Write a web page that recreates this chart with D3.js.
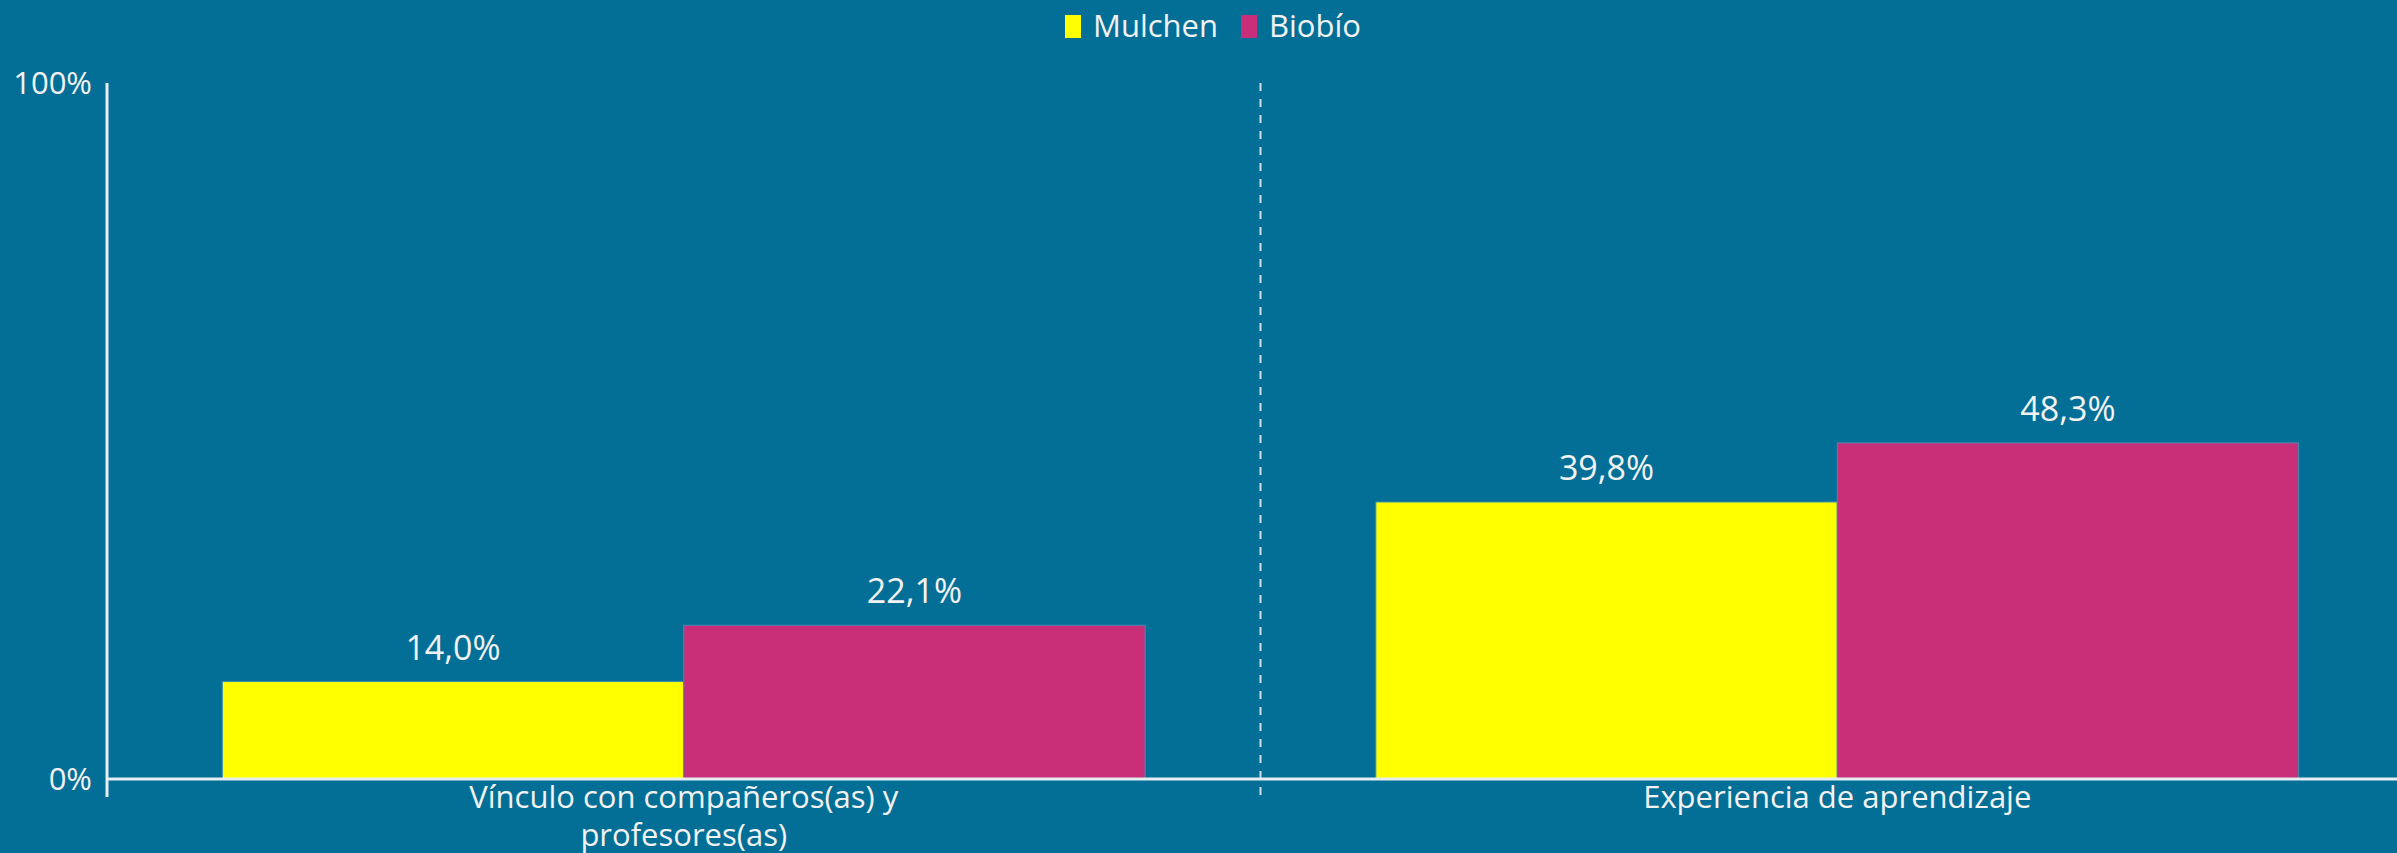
<!DOCTYPE html>
<html>
<head>
<meta charset="utf-8">
<script src="https://cdn.jsdelivr.net/npm/d3@7"></script>
<style>
  html, body { margin: 0; padding: 0; background: #036f96; overflow: hidden; }
  svg { display: block; }
  text { font-family: "Open Sans", sans-serif; fill: #f2f2f2; }
</style>
</head>
<body>
<svg id="chart"></svg>
<script>
// Categories (label lines) and series values, as shares of 1
const categories = ["Vínculo con compañeros(as) y profesores(as)", "Experiencia de aprendizaje"];
const categoryLines = [["Vínculo con compañeros(as) y", "profesores(as)"], ["Experiencia de aprendizaje"]];
const seriesNames = ["Mulchen", "Biobío"];
const mulchen = [0.140, 0.398];
const biobio = [0.221, 0.483];
const yTicks = [0, 1];
const yTickLabels = ["0%", "100%"];

const W = 2397, H = 853;
const colors = { "Mulchen": "#ffff00", "Biobío": "#c92e78" };
const series = [
  { name: seriesNames[0], values: mulchen },
  { name: seriesNames[1], values: biobio }
];

const svg = d3.select("#chart").attr("width", W).attr("height", H);
svg.append("rect").attr("width", W).attr("height", H).attr("fill", "#036f96");

const left = 107, baseY = 779, topY = 83;

const x0 = d3.scaleBand().domain(categories).range([left, 2414]).paddingInner(0.2).paddingOuter(0.1);
const x1 = d3.scaleBand().domain(seriesNames).range([0, x0.bandwidth()]);
const y = d3.scaleLinear().domain([0, 1]).range([baseY, topY]);

const fmt = v => (v * 100).toFixed(1).replace(".", ",") + "%";

// Bars
const groups = svg.append("g").selectAll("g")
  .data(categories)
  .join("g")
  .attr("transform", d => `translate(${x0(d)},0)`);

groups.selectAll("rect")
  .data((d, i) => series.map(s => ({ name: s.name, v: s.values[i] })))
  .join("rect")
  .attr("x", d => x1(d.name))
  .attr("y", d => y(d.v))
  .attr("width", x1.bandwidth())
  .attr("height", d => baseY - y(d.v))
  .attr("fill", d => colors[d.name])
  .attr("stroke", "#3d8fb3")
  .attr("stroke-width", 1);

// Value labels
groups.selectAll("text.val")
  .data((d, i) => series.map(s => ({ name: s.name, v: s.values[i] })))
  .join("text")
  .attr("class", "val")
  .attr("x", d => x1(d.name) + x1.bandwidth() / 2)
  .attr("y", d => y(d.v) - 22)
  .attr("text-anchor", "middle")
  .attr("font-size", 34)
  .text(d => fmt(d.v));

// Divider between categories
const midX = x0(categories[1]) - x0.step() * x0.paddingInner() / 2;
svg.append("line")
  .attr("x1", midX).attr("x2", midX)
  .attr("y1", topY).attr("y2", baseY + 18)
  .attr("stroke", "#c8dbe6").attr("stroke-width", 2)
  .attr("stroke-dasharray", "8,8");

// Baseline
svg.append("line")
  .attr("x1", left).attr("x2", W)
  .attr("y1", baseY).attr("y2", baseY)
  .attr("stroke", "#e6eef2").attr("stroke-width", 3);

// Y axis line
svg.append("line")
  .attr("x1", left).attr("x2", left)
  .attr("y1", topY).attr("y2", baseY + 18)
  .attr("stroke", "#e6eef2").attr("stroke-width", 3);

// Y tick labels
svg.append("g").selectAll("text")
  .data(yTicks)
  .join("text")
  .attr("x", 92)
  .attr("y", d => y(d))
  .attr("dy", "0.35em")
  .attr("text-anchor", "end")
  .attr("font-size", 31)
  .text((d, i) => yTickLabels[i]);

// Category labels
svg.append("g").selectAll("text")
  .data(categories)
  .join("text")
  .attr("text-anchor", "middle")
  .attr("font-size", 31)
  .attr("transform", d => `translate(${x0(d) + x0.bandwidth() / 2},0)`)
  .each(function (d, i) {
    d3.select(this).selectAll("tspan")
      .data(categoryLines[i])
      .join("tspan")
      .attr("x", 0)
      .attr("y", (t, j) => 808 + j * 38)
      .text(t => t);
  });

// Legend
const legend = svg.append("g");
const legendItems = [
  { name: seriesNames[0], x: 1065 },
  { name: seriesNames[1], x: 1241 }
];
legendItems.forEach(it => {
  legend.append("rect")
    .attr("x", it.x).attr("y", 15)
    .attr("width", 16).attr("height", 23)
    .attr("fill", colors[it.name]);
  legend.append("text")
    .attr("x", it.x + 28).attr("y", 37)
    .attr("font-size", 31)
    .text(it.name);
});
</script>
</body>
</html>
